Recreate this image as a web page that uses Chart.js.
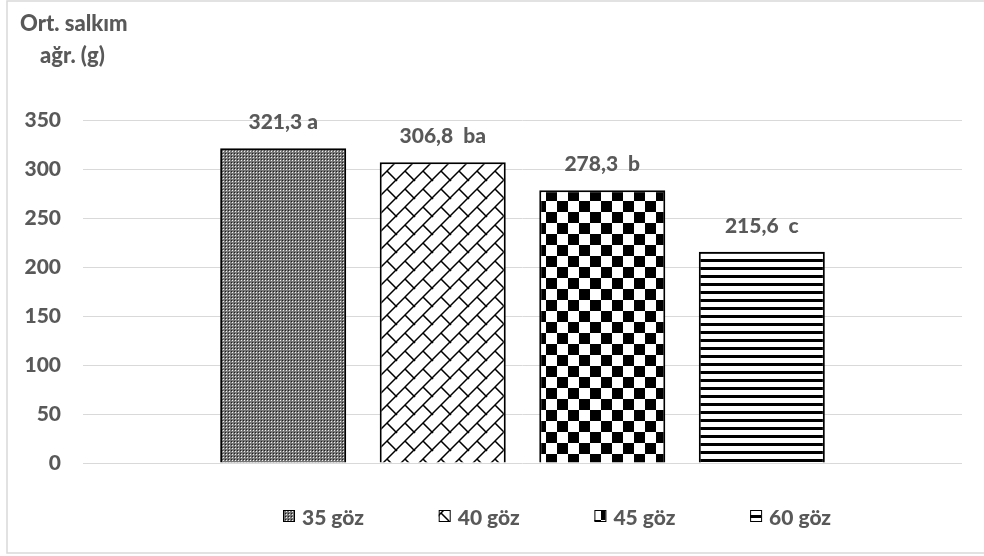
<!DOCTYPE html>
<html>
<head>
<meta charset="utf-8">
<script src="https://cdn.jsdelivr.net/npm/chart.js@4.4.1/dist/chart.umd.min.js"></script>
<style>
  html, body { margin: 0; padding: 0; background: #ffffff; }
  #wrap { width: 984px; height: 556px; position: relative; }
</style>
</head>
<body>
<div id="wrap"><canvas id="c" width="984" height="556"></canvas></div>
<script>
// Mean cluster weight per bud load treatment
const categories = ['35 göz', '40 göz', '45 göz', '60 göz'];
const meanWeights = [321.3, 306.8, 278.3, 215.6];
const groupLetters = ['a', 'ba', 'b', 'c'];
const letterGaps = [' ', '  ', '  ', '  '];
const yTickValues = [0, 50, 100, 150, 200, 250, 300, 350];
const axisTitleLines = ['Ort. salkım', 'ağr. (g)'];

const TEXT = '#595959';
const FONT = 'Lato, "Open Sans", sans-serif';
const WEIGHT = '900';

// ---- hatch fills (patterns repeat from the canvas origin) ----
function tile(w, h, paint) {
  const c = document.createElement('canvas');
  c.width = w; c.height = h;
  const g = c.getContext('2d');
  paint(g, w, h);
  return document.getElementById('c').getContext('2d').createPattern(c, 'repeat');
}
const dotGrid = tile(3, 3, (g) => {
  g.fillStyle = '#767676'; g.fillRect(0, 0, 3, 3);
  g.fillStyle = '#f0f0f0'; g.fillRect(1, 1, 1, 1);
  g.fillStyle = '#1e1e1e'; g.fillRect(0, 0, 1, 1);
});
const brick = tile(18, 18, (g, w, h) => {
  g.fillStyle = '#ffffff'; g.fillRect(0, 0, w, h);
  g.strokeStyle = '#000000'; g.lineWidth = 1.5; g.lineCap = 'square';
  g.beginPath();
  // long diagonals (/)
  g.moveTo(-2, h + 2); g.lineTo(w + 2, -2);
  g.moveTo(-2, 2); g.lineTo(2, -2);
  g.moveTo(w - 2, h + 2); g.lineTo(w + 2, h - 2);
  // short connectors (\)
  g.moveTo(w / 2, h / 2); g.lineTo(w + 1, h + 1);
  g.moveTo(-1, -1); g.lineTo(0.5, 0.5);
  g.stroke();
});
const checker = tile(22, 22, (g) => {
  g.fillStyle = '#ffffff'; g.fillRect(0, 0, 22, 22);
  g.fillStyle = '#000000';
  for (let y = 0; y < 22; y++) {
    for (let x = 0; x < 22; x++) {
      const cx = Math.floor(((x - 18 + 22) % 22) / 11);
      const cy = Math.floor(((y - 14 + 22) % 22) / 11);
      if ((cx + cy) % 2 === 0) g.fillRect(x, y, 1, 1);
    }
  }
});
const stripes = tile(8, 8, (g) => {
  g.fillStyle = '#ffffff'; g.fillRect(0, 0, 8, 8);
  g.fillStyle = '#000000'; g.fillRect(0, 3, 8, 3);
});
const fills = [dotGrid, brick, checker, stripes];

// ---- frame, axis title, value labels and legend ----
const decor = {
  id: 'decor',
  beforeDraw(chart) {
    const g = chart.ctx;
    g.save();
    g.fillStyle = '#ffffff';
    g.fillRect(0, 0, chart.width, chart.height);
    g.strokeStyle = '#d9d9d9';
    g.lineWidth = 1.5;
    g.strokeRect(7, 1, 1000, 552);
    g.restore();
  },
  afterDraw(chart) {
    const g = chart.ctx;
    g.save();
    g.fillStyle = TEXT;
    g.textBaseline = 'alphabetic';

    // y axis title
    g.font = WEIGHT + ' 22px ' + FONT;
    g.textAlign = 'left';
    g.fillText(axisTitleLines[0], 20, 31);
    g.fillText(axisTitleLines[1], 40, 63);

    // value + significance labels
    g.font = WEIGHT + ' 21px ' + FONT;
    g.textAlign = 'center';
    chart.data.datasets.forEach((ds, i) => {
      const bar = chart.getDatasetMeta(i).data[0];
      const txt = meanWeights[i].toFixed(1).replace('.', ',') + letterGaps[i] + groupLetters[i];
      g.fillText(txt, bar.x, bar.y - 19);
    });

    // legend
    g.textAlign = 'left';
    chart.data.datasets.forEach((ds, i) => {
      const bx = 283 + i * 155.7;
      const by = 510;
      g.fillStyle = ds.backgroundColor;
      g.fillRect(bx, by, 11, 11);
      g.strokeStyle = '#000000';
      g.lineWidth = 1;
      g.strokeRect(bx + 0.5, by + 0.5, 11, 11);
      g.fillStyle = TEXT;
      g.fillText(ds.label, bx + 19, 525);
    });
    g.restore();
  }
};

new Chart(document.getElementById('c'), {
  type: 'bar',
  data: {
    labels: [''],
    datasets: categories.map((name, i) => ({
      label: name,
      data: [meanWeights[i]],
      backgroundColor: fills[i],
      borderColor: '#000000',
      borderWidth: 2,
      barPercentage: 0.79,
      categoryPercentage: 0.726
    }))
  },
  options: {
    responsive: false,
    animation: false,
    devicePixelRatio: 1,
    layout: { padding: { left: 0, right: 22, top: 120, bottom: 93 } },
    plugins: { legend: { display: false }, tooltip: { enabled: false } },
    scales: {
      x: { display: false },
      y: {
        min: 0,
        max: 350,
        afterBuildTicks(scale) { scale.ticks = yTickValues.map(v => ({ value: v })); },
        afterFit(scale) { scale.width = 83; },
        ticks: {
          color: TEXT,
          padding: 22,
          font: { family: FONT, weight: WEIGHT, size: 21 },
          callback: (v) => String(v)
        },
        grid: { color: '#d9d9d9', lineWidth: 1, drawTicks: false },
        border: { display: false }
      }
    }
  },
  plugins: [decor]
});
</script>
</body>
</html>
